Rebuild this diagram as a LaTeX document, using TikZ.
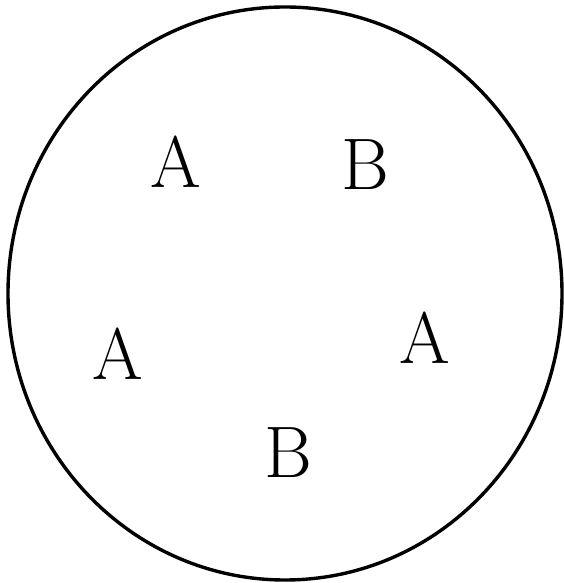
\documentclass[tikz,border=0pt]{standalone}
\begin{document}
\begin{tikzpicture}[x=1pt,y=1pt,
  lbl/.style={inner sep=0pt,font=\fontsize{73}{73}\selectfont}]
\useasboundingbox (0,0) rectangle (564,583);
\draw[line width=3.4pt] (285,289.5) ellipse [x radius=277, y radius=286.5];
\node[lbl] (a1) at (176,421.5) {A};
\node[lbl] (b1) at (365,418) {B};
\node[lbl] (a2) at (118,229.5) {A};
\node[lbl] (a3) at (425,245) {A};
\node[lbl] (b2) at (288,130) {B};
\end{tikzpicture}
\end{document}
